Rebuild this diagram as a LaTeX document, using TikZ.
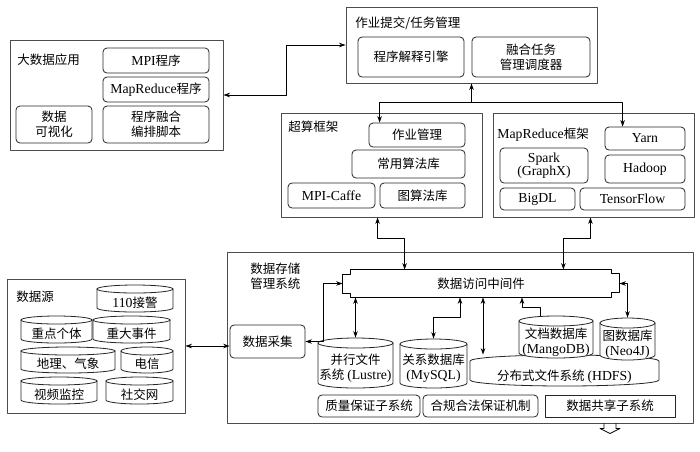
\documentclass[tikz,border=0pt]{standalone}
\usepackage{fontspec}
\setmainfont{Liberation Serif}[Scale=1.1]
\newfontfamily\zhfont{Noto Sans CJK SC}
\usetikzlibrary{arrows.meta}
\newcommand{\en}[1]{{\rmfamily #1}}
% cylinder: * = no front arc on top, [ry], name, x1, y1, x2, y2, text
\NewDocumentCommand{\drum}{s O{5} m m m m m m}{%
  \draw[drum,fill=white] (#4,#5+#2) -- (#4,#7-#2)
    arc[start angle=180,end angle=360,x radius={(#6-#4)/2*1pt},y radius=#2pt]
    -- (#6,#5+#2)
    arc[start angle=0,end angle=180,x radius={(#6-#4)/2*1pt},y radius=#2pt] -- cycle;
  \IfBooleanF{#1}{\draw[drum] (#4,#5+#2)
    arc[start angle=180,end angle=360,x radius={(#6-#4)/2*1pt},y radius=#2pt];}
  \node[drumtext,minimum width={(#6-#4)*1pt},minimum height={(#7-#5+2*#2)*1pt}]
    (#3) at ({(#4+#6)/2},{(#5+#7)/2+#2}) {#8};
}
\tikzset{
  panel/.style={draw=black!70, line width=0.9pt, inner sep=0pt},
  blk/.style={draw=black!85, rounded corners=4pt, align=center, inner sep=0pt},
  drum/.style={draw=black!85},
  drumtext/.style={inner sep=0pt, align=center},
  ttl/.style={anchor=west, inner sep=0pt, align=left},
  sz/.style 2 args={minimum width=#1pt, minimum height=#2pt},
}

\begin{document}
\begin{tikzpicture}[x=1pt, y=-1pt, >={Stealth[length=6.5pt,width=4.5pt]}, line width=0.8pt,
    font=\fontsize{12.5}{15}\zhfont, line join=round, line cap=round]
  \path[use as bounding box, fill=white] (0,0) rectangle (700,451);
  % 大数据应用
  \node[panel, sz={213}{110}] (app) at (116.5,95) {};
  \node[ttl] (appT) at (17,60) {大数据应用};
  \node[blk, sz={106}{25}] (mpi) at (156,60.5) {\en{MPI}程序};
  \node[blk, sz={106}{25}] (mrp) at (156,89.5) {\en{MapReduce}程序};
  \node[blk, sz={106}{37}] (fuse) at (156,124.5) {程序融合\\编排脚本};
  \node[blk, sz={76}{37}] (vis) at (54,124.5) {数据\\可视化};
  % 作业提交/任务管理
  \node[panel, sz={251}{76}] (job) at (471.5,45) {};
  \node[ttl] (jobT) at (355,23) {作业提交/任务管理};
  \node[blk, sz={106}{40}] (eng) at (411,57) {程序解释引擎};
  \node[blk, sz={118}{40}] (sch) at (531,57) {融合任务\\管理调度器};
  % 超算框架
  \node[panel, sz={201}{104}] (hpc) at (381.5,165) {};
  \node[ttl] (hpcT) at (288,127) {超算框架};
  \node[blk, sz={96}{24}] (jm) at (417,135) {作业管理};
  \node[blk, sz={113}{28}] (alg) at (408.5,164) {常用算法库};
  \node[blk, sz={87}{25}] (caffe) at (331.5,195.5) {\en{MPI-Caffe}};
  \node[blk, sz={85}{25}] (galg) at (422.5,195.5) {图算法库};
  % MapReduce框架
  \node[panel, sz={201}{104}] (mr) at (593.5,165) {};
  \node[ttl] (mrT) at (497,135) {\en{MapReduce}框架};
  \node[blk, sz={80}{23}] (yarn) at (645,138.5) {\en{Yarn}};
  \node[blk, sz={88}{35}] (spark) at (544,165.5) {\en{Spark}\\[-2pt]\en{(GraphX)}};
  \node[blk, sz={80}{28}] (hdp) at (645,169) {\en{Hadoop}};
  \node[blk, sz={75}{22}] (bigdl) at (537.5,199) {\en{BigDL}};
  \node[blk, sz={105}{22}] (tf) at (632.5,199) {\en{TensorFlow}};
  % 数据源
  \node[panel, sz={178}{134}] (src) at (96,346) {};
  \node[ttl] (srcT) at (16,297) {数据源};
  \drum[4]{d110}{97}{285}{173}{312}{\en{110}接警}
  \drum[4]{dkey}{21}{316}{92}{343}{重点个体}
  \drum[4]{devt}{93}{316}{170}{343}{重大事件}
  \drum[4]{dgeo}{21}{347}{115}{373}{地理、气象}
  \drum[4]{dtel}{121}{347}{173}{373}{电信}
  \drum[4]{dvid}{21}{377}{97}{404}{视频监控}
  \drum[4]{dsoc}{106}{377}{173}{404}{社交网}
  % 数据存储管理系统
  \node[panel, sz={466}{171}] (store) at (460,337.5) {};
  \node[ttl] (storeT) at (250,276.5) {数据存储\\管理系统};
  \node[blk, sz={75}{33}] (acq) at (267.5,341.5) {数据采集};
  \node[sz={260}{27}, inner sep=0pt] (mw) at (481,283.5) {数据访问中间件};
  \draw (mw.north west) -- (mw.north east) -- ++(0,4) -- ++(8,0) -- ++(0,19) -- ++(-8,0)
    -- (mw.south east) -- (mw.south west) -- ++(0,-4) -- ++(-8,0) -- ++(0,-19) -- ++(8,0) -- cycle;
  \coordinate (mwL) at ([xshift=-8pt]mw.west);
  \coordinate (mwR) at ([xshift=8pt]mw.east);
  \drum[5]{lus}{318}{338}{393}{388}{并行文件\\系统 \en{(Lustre)}}
  \drum[5]{sql}{400}{339}{467}{388}{关系数据库\\\en{(MySQL)}}
  \drum*[6]{hdfs}{470}{355}{659}{386}{分布式文件系统 \en{(HDFS)}}
  \drum[5]{doc}{519}{316}{593}{358}{文档数据库\\\en{(MangoDB)}}
  \drum[5]{gdb}{600}{318}{655}{360}{图数据库\\\en{(Neo4J)}}
  \node[blk, sz={102}{22}] (qa) at (369,406) {质量保证子系统};
  \node[blk, sz={115}{22}] (comp) at (480.5,406) {合规合法保证机制};
  \node[blk, rounded corners=0pt, sz={130}{22}] (share) at (610,406) {数据共享子系统};
  % connectors
  \draw[<->] (app.east) -- ++(63,0) |- (job.west);
  \draw[<-] (job.south) -- ++(0,19) coordinate (fork);
  \draw[->] (fork) -| ([xshift=11pt]jm.north west);
  \draw[->] (fork) -| ([xshift=18pt]yarn.north west);
  \draw[<->] ([xshift=97pt]hpc.south west) -- ++(0,21) -| ([xshift=54pt]mw.north west);
  \draw[<->] ([xshift=-104pt]mr.south east) -- ++(0,21) -| ([xshift=-48pt]mw.north east);
  \draw[<->] (src.east) -- (src.east -| acq.west);
  \draw[<->] (acq.east) -- ++(18,0) |- (mwL);
  \draw[<->] (mw.south -| lus.north) -- (lus.north);
  \draw[<->] ([xshift=-21pt]mw.south) -- ++(0,20) -| (sql.north);
  \coordinate (h) at ([xshift=2pt]mw.south);
  \draw[<->] (h) -- (h |- hdfs.north);
  \draw[->] ([xshift=-16pt]doc.north) -- ++(0,-8) -| ([xshift=41pt]mw.south);
  \draw[<->] (mwR) -| (gdb.north);
  \coordinate (dn) at (share.south |- store.south);
  \draw ([xshift=-6pt]dn) -- ++(0,5) -- ++(-4,0) -- ++(10,5) -- ++(10,-5) -- ++(-4,0) -- ++(0,-5);
\end{tikzpicture}
\end{document}
